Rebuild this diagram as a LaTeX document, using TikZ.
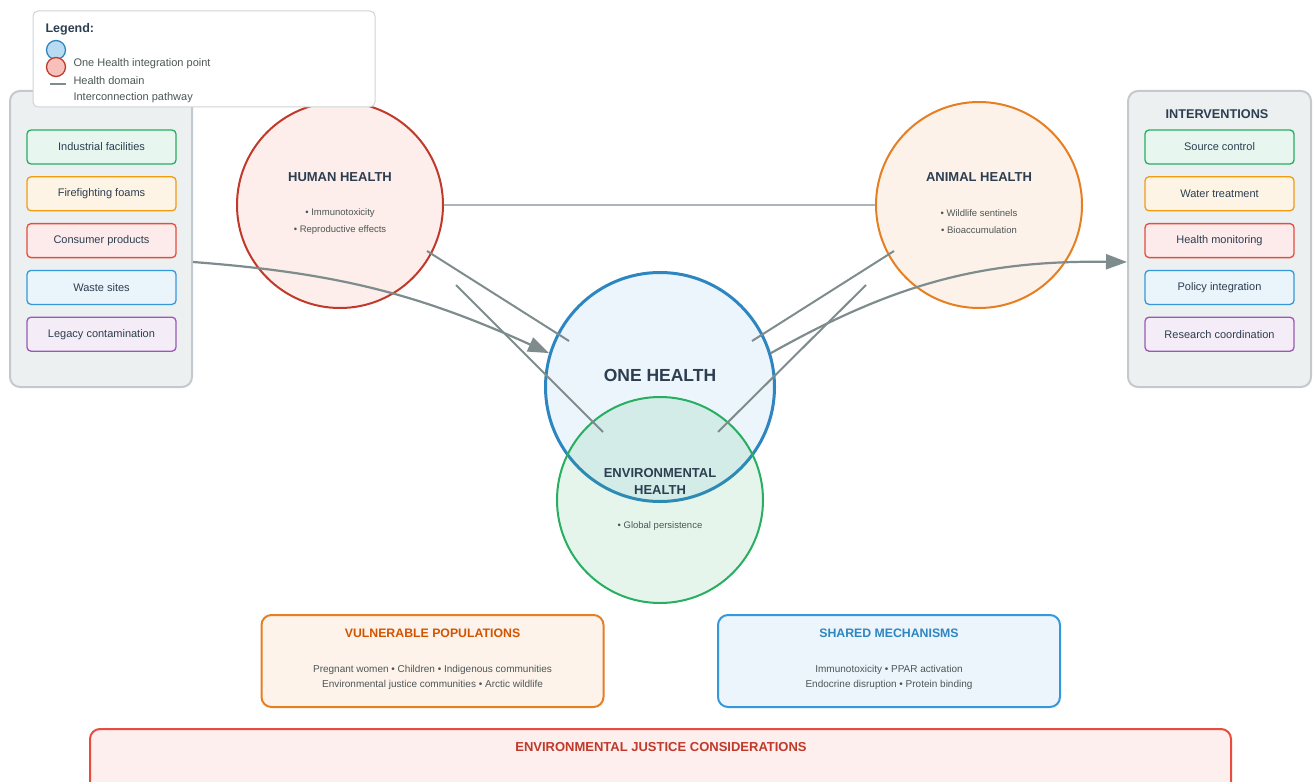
\documentclass[tikz,border=0pt]{standalone}
\usepackage{fontspec}
\setmainfont{Liberation Sans}
\usetikzlibrary{shapes,arrows.meta,calc,positioning}
\definecolor{ink}{HTML}{2C3E50}
\definecolor{subink}{HTML}{4D5656}
\definecolor{panelfill}{HTML}{ECF0F1}
\definecolor{panelline}{HTML}{C3C9CC}
\definecolor{pathgray}{HTML}{7F8C8D}
\definecolor{domgray}{HTML}{AAB7B8}
\definecolor{legline}{HTML}{D0D3D4}
\definecolor{grn}{HTML}{27AE60}
\definecolor{org}{HTML}{F39C12}
\definecolor{red}{HTML}{E74C3C}
\definecolor{blu}{HTML}{3498DB}
\definecolor{pur}{HTML}{9B59B6}
\definecolor{hhred}{HTML}{C0392B}
\definecolor{ahorg}{HTML}{E67E22}
\definecolor{ohblue}{HTML}{2E86C1}
\definecolor{vptxt}{HTML}{D35400}
\begin{document}
\begin{tikzpicture}[x=1pt,y=-1pt,every node/.style={text=ink},
panel/.style={draw=panelline,fill=panelfill,line width=2pt,rounded corners=10pt,minimum width=182pt,minimum height=296pt},
item/.style={draw=#1,fill=#1!11,line width=1.3pt,rounded corners=4pt,minimum width=149pt,minimum height=34pt,font=\fontsize{11}{13}\selectfont},
domain/.style={circle,draw=#1,fill=#1!10,line width=2pt,minimum size=206pt,inner sep=0pt},
ttl/.style={font=\fontsize{13}{17}\selectfont\bfseries,align=center},
pts/.style={font=\fontsize{9.5}{17}\selectfont,align=center,text=subink},
link/.style={draw=pathgray,line width=2pt},
flow/.style={draw=pathgray,line width=2.2pt,-{Triangle[length=21pt,width=15pt]}},
infobox/.style={draw=#1,line width=2pt,rounded corners=10pt,minimum width=342pt,minimum height=92pt},
lgtxt/.style={anchor=west,font=\fontsize{11}{13}\selectfont,text=subink}
]
\useasboundingbox (0,0) rectangle (1313,781);
\node[panel] (lp) at (101,239) {};
\node[item=grn] (s1) at (101.5,147) {Industrial facilities};
\node[item=org,below=11.5pt of s1] (s2) {Firefighting foams};
\node[item=red,below=11.5pt of s2] (s3) {Consumer products};
\node[item=blu,below=11.5pt of s3] (s4) {Waste sites};
\node[item=pur,below=11.5pt of s4] (s5) {Legacy contamination};
\node[panel,minimum width=183pt] (rp) at (1219.5,239) {};
\node[ttl,font=\fontsize{12.7}{15}\selectfont\bfseries] (ivt) at (1217,114) {INTERVENTIONS};
\node[item=grn] (i1) at (1219.5,147) {Source control};
\node[item=org,below=11.5pt of i1] (i2) {Water treatment};
\node[item=red,below=11.5pt of i2] (i3) {Health monitoring};
\node[item=blu,below=11.5pt of i3] (i4) {Policy integration};
\node[item=pur,below=11.5pt of i4] (i5) {Research coordination};
\node[domain=hhred,fill=red!10] (hh) at (340,205) {};
\node[ttl] (hht) at ([yshift=28pt]hh.center) {HUMAN HEALTH};
\node[pts] (hhp) at ([yshift=-16.5pt]hh.center) {• Immunotoxicity\\• Reproductive effects};
\node[domain=ahorg,fill=ahorg!10] (ah) at (979,205) {};
\node[ttl] (aht) at ([yshift=28pt]ah.center) {ANIMAL HEALTH};
\node[pts] (ahp) at ([yshift=-16.5pt]ah.center) {• Wildlife sentinels\\• Bioaccumulation};
\draw[domgray,line width=1.2pt] (hh.east) -- (ah.west);
\node[domain=ohblue,fill=blu!10,line width=3pt,minimum size=229pt] (oh) at (660,387) {};
\node[circle,draw=grn,fill=grn,fill opacity=0.12,line width=2pt,minimum size=206pt,inner sep=0pt] (eh) at (660,500) {};
\node[ttl,font=\fontsize{17.5}{20}\selectfont\bfseries] (oht) at ([yshift=12pt]oh.center) {ONE HEALTH};
\node[ttl] (eht) at ([yshift=18.5pt]eh.center) {ENVIRONMENTAL\\HEALTH};
\node[pts] (ehp) at ([yshift=-26pt]eh.center) {• Global persistence};
\draw[link] ($(hh.center)+(87,46)$) -- ($(oh.center)+(-91,-46)$);
\draw[link] ($(hh.center)+(116,80)$) -- ($(eh.center)+(-57,-68)$);
\draw[link] ($(ah.center)+(-85,46)$) -- ($(oh.center)+(92,-46)$);
\draw[link] ($(ah.center)+(-113,80)$) -- ($(eh.center)+(58,-68)$);
\draw[flow] ([yshift=-23pt]lp.east) to[bend left=10] (oh.163);
\draw[flow] (oh.17) to[bend left=15] ([yshift=-23pt]rp.west);
\node[infobox=ahorg,fill=ahorg!9] (vp) at (432.5,661) {};
\node[ttl,font=\fontsize{12.3}{15}\selectfont\bfseries,text=vptxt] (vpt) at ([yshift=28pt]vp.center) {VULNERABLE POPULATIONS};
\node[pts,font=\fontsize{10}{15}\selectfont] (vpp) at ([yshift=-16.5pt]vp.center) {Pregnant women • Children • Indigenous communities\\Environmental justice communities • Arctic wildlife};
\node[infobox=blu,fill=blu!10] (sm) at (889,661) {};
\node[ttl,font=\fontsize{12.3}{15}\selectfont\bfseries,text=ohblue] (smt) at ([yshift=28pt]sm.center) {SHARED MECHANISMS};
\node[pts,font=\fontsize{10}{15}\selectfont] (smp) at ([yshift=-16.5pt]sm.center) {Immunotoxicity • PPAR activation\\Endocrine disruption • Protein binding};
\node[infobox=red,fill=red!9,minimum width=1141pt,minimum height=90pt] (ej) at (660.5,774) {};
\node[ttl,text=hhred] (ejt) at (661,747) {ENVIRONMENTAL JUSTICE CONSIDERATIONS};
\node[draw=legline,fill=white,rounded corners=5pt,line width=1pt,minimum width=342pt,minimum height=96pt] (lg) at (204,59) {};
\node[lgtxt,font=\fontsize{12.5}{14}\selectfont\bfseries,text=ink] (lgt) at (42,29) {Legend:};
\node[circle,draw=ohblue,fill=blu!35,line width=1.3pt,minimum size=19pt,inner sep=0pt] (lgb) at (56,50) {};
\node[circle,draw=hhred,fill=red!35,line width=1.3pt,minimum size=19pt,inner sep=0pt] (lgr) at (56,67) {};
\node[lgtxt] (lg1) at (70,64) {One Health integration point};
\coordinate (lgs) at (50,84);
\coordinate (lge) at (66,84);
\draw[pathgray,line width=2.5pt] (lgs) -- (lge);
\node[lgtxt] (lg2) at (70,81) {Health domain};
\node[lgtxt] (lg3) at (70,98) {Interconnection pathway};
\end{tikzpicture}
\end{document}
